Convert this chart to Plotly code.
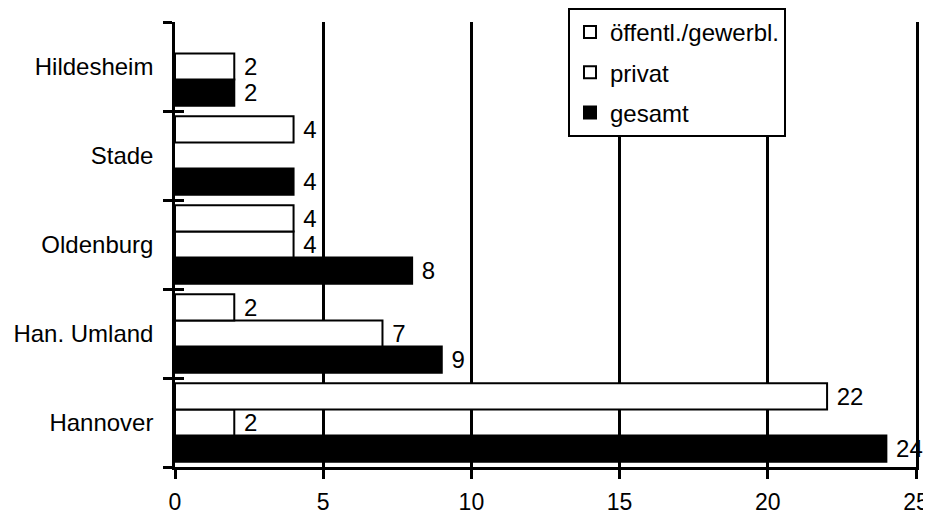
import plotly.graph_objects as go

categories = ["Hannover", "Han. Umland", "Oldenburg", "Stade", "Hildesheim"]
oeffentl = [22, 2, 4, 4, None]
privat = [2, 7, 4, None, 2]
gesamt = [24, 9, 8, 4, 2]
x_ticks = [0, 5, 10, 15, 20, 25]

FONT = "Liberation Sans, Arial, sans-serif"

# page has an 8px body margin, so the figure is offset by 8px in the window
W, H = 923, 509

fig = go.Figure()
series = [
    ("gesamt", gesamt, "black", 3),
    ("privat", privat, "white", 2),
    ("öffentl./gewerbl.", oeffentl, "white", 1),
]
for name, vals, fill, rank in series:
    fig.add_trace(go.Bar(
        name=name, y=categories, x=vals, orientation="h",
        marker=dict(color=fill, line=dict(color="black", width=2)),
        texttemplate=" %{x}", textposition="outside", constraintext="none",
        textfont=dict(family=FONT, size=24, color="black"),
        cliponaxis=False, legendgroup=name, legendrank=rank,
    ))

# invisible helper trace for an overlay axis giving inward tick halves
fig.add_trace(go.Scatter(y=categories, x=[0] * len(categories), yaxis="y2",
                         mode="markers", marker=dict(opacity=0),
                         showlegend=False, hoverinfo="skip"))

fig.update_layout(
    width=W, height=H,
    margin=dict(l=167, r=15, t=14, b=50, autoexpand=False),
    paper_bgcolor="white", plot_bgcolor="white",
    barmode="group", bargap=0.12, bargroupgap=0,
    font=dict(family=FONT, size=24, color="black"),
    showlegend=True,
    legend=dict(
        xref="container", yref="container",
        x=560 / W, y=1.0, xanchor="left", yanchor="top",
        bgcolor="white", bordercolor="black", borderwidth=2,
        traceorder="grouped", tracegroupgap=6,
        font=dict(family=FONT, size=24, color="black"),
    ),
    xaxis=dict(
        range=[0, 25], tickvals=x_ticks, ticktext=[str(v) for v in x_ticks],
        showgrid=True, gridcolor="black", gridwidth=2.5, zeroline=False,
        showline=True, linecolor="black", linewidth=2.5,
        ticks="outside", ticklen=9, tickwidth=2.5, tickcolor="black",
        ticklabelstandoff=4,
        tickfont=dict(family=FONT, size=23, color="black"),
        automargin=False,
    ),
    yaxis=dict(
        type="category", categoryorder="array", categoryarray=categories,
        range=[-0.5, 4.5], tickson="boundaries",
        showline=True, linecolor="black", linewidth=2.5, showgrid=False,
        mirror=True,
        ticks="outside", ticklen=9, tickwidth=2.5, tickcolor="black",
        ticklabelstandoff=14, automargin=False,
        tickfont=dict(family=FONT, size=24, color="black"),
    ),
    yaxis2=dict(
        type="category", categoryorder="array", categoryarray=categories,
        range=[-0.5, 4.5], tickson="boundaries", overlaying="y", side="left",
        showline=False, showgrid=False, showticklabels=False,
        ticks="inside", ticklen=9, tickwidth=2.5, tickcolor="black",
        automargin=False,
    ),
)

fig.write_html("out.html")
